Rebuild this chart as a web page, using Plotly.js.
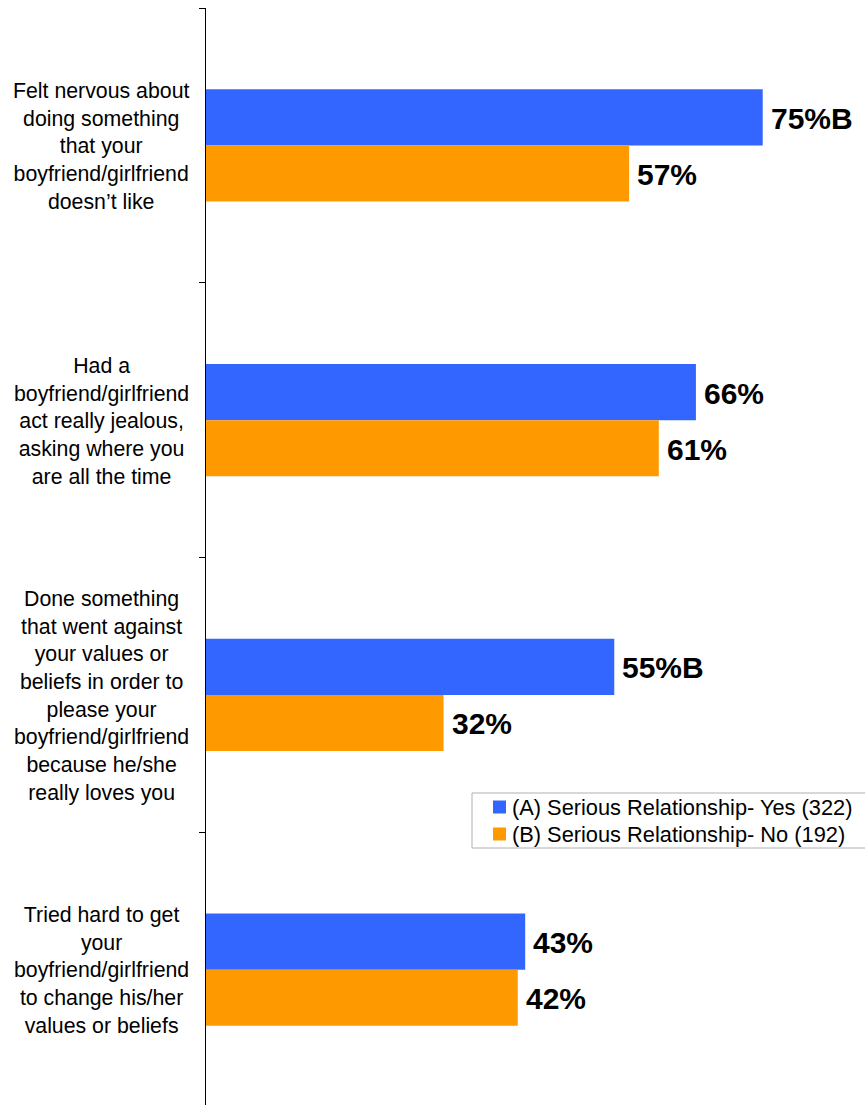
<!DOCTYPE html>
<html>
<head>
<meta charset="utf-8">
<script src="https://cdn.plot.ly/plotly-3.0.1.min.js"></script>
<style>html,body{margin:0;padding:0;background:#fff;overflow:hidden;}</style>
</head>
<body>
<div id="chart" style="width:865px;height:1107px;"></div>
<script>
const categories = [
  "Felt nervous about<br>doing something<br>that your<br>boyfriend/girlfriend<br>doesn’t like",
  "Had a<br>boyfriend/girlfriend<br>act really jealous,<br>asking where you<br>are all the time",
  "Done something<br>that went against<br>your values or<br>beliefs in order to<br>please your<br>boyfriend/girlfriend<br>because he/she<br>really loves you",
  "Tried hard to get<br>your<br>boyfriend/girlfriend<br>to change his/her<br>values or beliefs"
];
const seriesA = [75, 66, 55, 43];
const seriesB = [57, 61, 32, 42];
const sigA = ["B", "", "B", ""];
const sigB = ["", "", "", ""];
const seriesNames = ["(A) Serious Relationship- Yes (322)", "(B) Serious Relationship- No (192)"];
const seriesColors = ["#3366FF", "#FF9900"];

const FONT = "Arial, 'Liberation Sans', sans-serif";
const PLOT_W = 659, PLOT_H = 1099, L = 206, T = 8;
const px2x = p => (p - L) / PLOT_W;
const py2y = p => 1 - (p - T) / PLOT_H;

const traces = [
  {type:'bar', orientation:'h', name:seriesNames[0], y:categories, x:seriesA,
   marker:{color:seriesColors[0]}, hoverinfo:'skip', showlegend:false},
  {type:'bar', orientation:'h', name:seriesNames[1], y:categories, x:seriesB,
   marker:{color:seriesColors[1]}, hoverinfo:'skip', showlegend:false}
];

const annotations = [];
categories.forEach((c, i) => {
  annotations.push({xref:'paper', yref:'y', x:px2x(101), y:c, text:c,
    showarrow:false, xanchor:'center', yanchor:'middle', align:'center', yshift:-1,
    font:{family:FONT, size:21.3, color:'#000'}});
  annotations.push({xref:'x', yref:'y', x:seriesA[i], y:c, text:seriesA[i] + '%' + sigA[i],
    showarrow:false, xanchor:'left', yanchor:'middle', xshift:6, yshift:27,
    font:{family:FONT, size:30, color:'#000', weight:'bold'}});
  annotations.push({xref:'x', yref:'y', x:seriesB[i], y:c, text:seriesB[i] + '%' + sigB[i],
    showarrow:false, xanchor:'left', yanchor:'middle', xshift:6, yshift:-29,
    font:{family:FONT, size:30, color:'#000', weight:'bold'}});
});

// legend box
const shapes = [
  {type:'rect', xref:'paper', yref:'paper', x0:px2x(472), x1:px2x(900), y0:py2y(793), y1:py2y(848),
   line:{color:'#b0b0b0', width:1}, fillcolor:'#fff', layer:'above'}
];
const rowY = [807, 834];
seriesNames.forEach((n, i) => {
  shapes.push({type:'rect', xref:'paper', yref:'paper', x0:px2x(493), x1:px2x(506),
    y0:py2y(rowY[i] - 6.5), y1:py2y(rowY[i] + 6.5), line:{width:0}, fillcolor:seriesColors[i], layer:'above'});
  annotations.push({xref:'paper', yref:'paper', x:px2x(510), y:py2y(rowY[i]), text:n,
    showarrow:false, xanchor:'left', yanchor:'middle', align:'left',
    font:{family:FONT, size:21.8, color:'#000'}});
});

const layout = {
  width:865, height:1107,
  margin:{l:L, r:0, t:T, b:0},
  paper_bgcolor:'#fff', plot_bgcolor:'#fff',
  barmode:'group', bargap:0.592, bargroupgap:0,
  showlegend:false,
  xaxis:{range:[0, PLOT_W/7.423], visible:false, fixedrange:true},
  yaxis:{type:'category', autorange:'reversed', showticklabels:false,
    showline:true, linecolor:'#000', linewidth:1, ticks:'outside', ticklen:6,
    tickcolor:'#000', tickson:'boundaries', showgrid:false, zeroline:false},
  annotations:annotations,
  shapes:shapes,
  font:{family:FONT}
};

Plotly.newPlot('chart', traces, layout, {displayModeBar:false, staticPlot:true});
</script>
</body>
</html>
